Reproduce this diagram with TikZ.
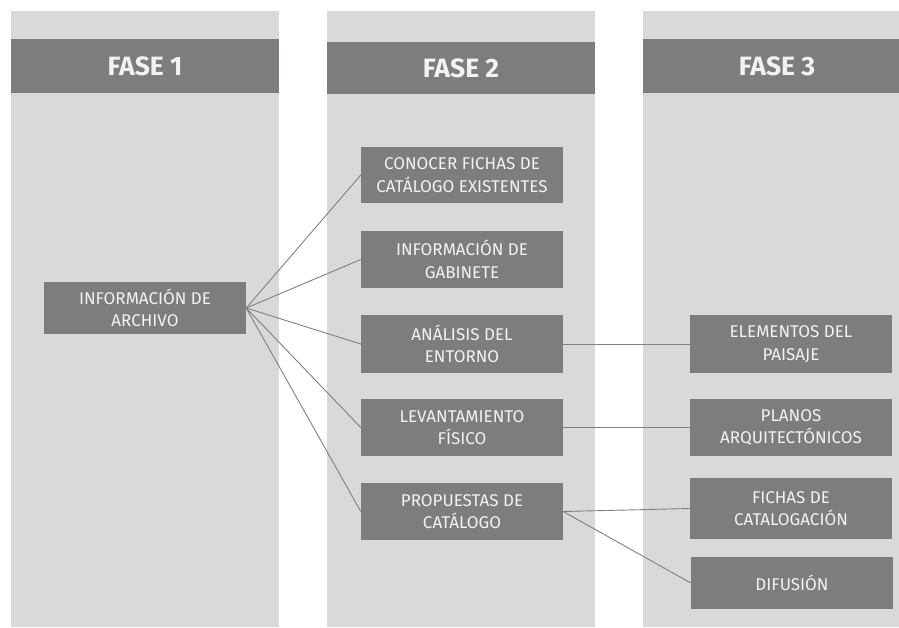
\documentclass[tikz,border=0pt]{standalone}
\usepackage{fontspec}
\setmainfont{Fira Sans}
\definecolor{colfondo}{RGB}{217,217,217}
\definecolor{cajagris}{RGB}{127,124,125}
\definecolor{lineagris}{RGB}{128,128,128}

\begin{document}
\begin{tikzpicture}[x=1pt, y=-1pt, every node/.style={font=\fontsize{17}{22.5}\selectfont, text=white!95!black}, fase/.style={fill=cajagris, minimum width=268pt, minimum height=54pt, inner sep=0pt, font=\fontsize{26.5}{30}\selectfont\bfseries}, paso/.style={fill=cajagris, minimum width=202pt, minimum height=57pt, inner sep=0pt, align=center}, enlace/.style={draw=lineagris, line width=0.9pt}]
	\useasboundingbox (0,0) rectangle (899,627);
	\clip (0,0) rectangle (899,627);
	\fill[colfondo] (11,11) rectangle (279,627); \fill[colfondo] (327,11) rectangle (595,627); \fill[colfondo] (643,11) rectangle (911,627);
	\node[fase] (f1) at (145,66) {FASE 1}; \node[fase, minimum height=52pt] (f2) at (461,68) {FASE 2}; \node[fase] (f3) at (777,66) {FASE 3};
	\node[paso, minimum height=52pt] (arch) at (145,308) {INFORMACIÓN DE\\ARCHIVO};
	\node[paso, minimum height=56pt] (fich) at (462,175) {CONOCER FICHAS DE\\CATÁLOGO EXISTENTES}; \node[paso] (gab) at (462,259.5) {INFORMACIÓN DE\\GABINETE};
	\node[paso, minimum height=58pt] (ent) at (462,344) {ANÁLISIS DEL\\ENTORNO}; \node[paso] (lev) at (462,427.5) {LEVANTAMIENTO\\FÍSICO}; \node[paso] (prop) at (462,511.5) {PROPUESTAS DE\\CATÁLOGO};
	\node[paso, minimum height=58pt] (pais) at (791,344) {ELEMENTOS DEL\\PAISAJE}; \node[paso] (plan) at (791,427.5) {PLANOS\\ARQUITECTÓNICOS};
	\node[paso, minimum height=61pt] (cat) at (791,508.5) {FICHAS DE\\CATALOGACIÓN}; \node[paso, minimum height=52pt] (dif) at (792,583) {DIFUSIÓN};
	\draw[enlace] (arch.east) -- (fich.west); \draw[enlace] (arch.east) -- (gab.west); \draw[enlace] (arch.east) -- (ent.west); \draw[enlace] (arch.east) -- (lev.west); \draw[enlace] (arch.east) -- (prop.west);
	\draw[enlace] (ent.east) -- (pais.west); \draw[enlace] (lev.east) -- (plan.west); \draw[enlace] (prop.east) -- (cat.west); \draw[enlace] (prop.east) -- (dif.west);
\end{tikzpicture}
\end{document}
